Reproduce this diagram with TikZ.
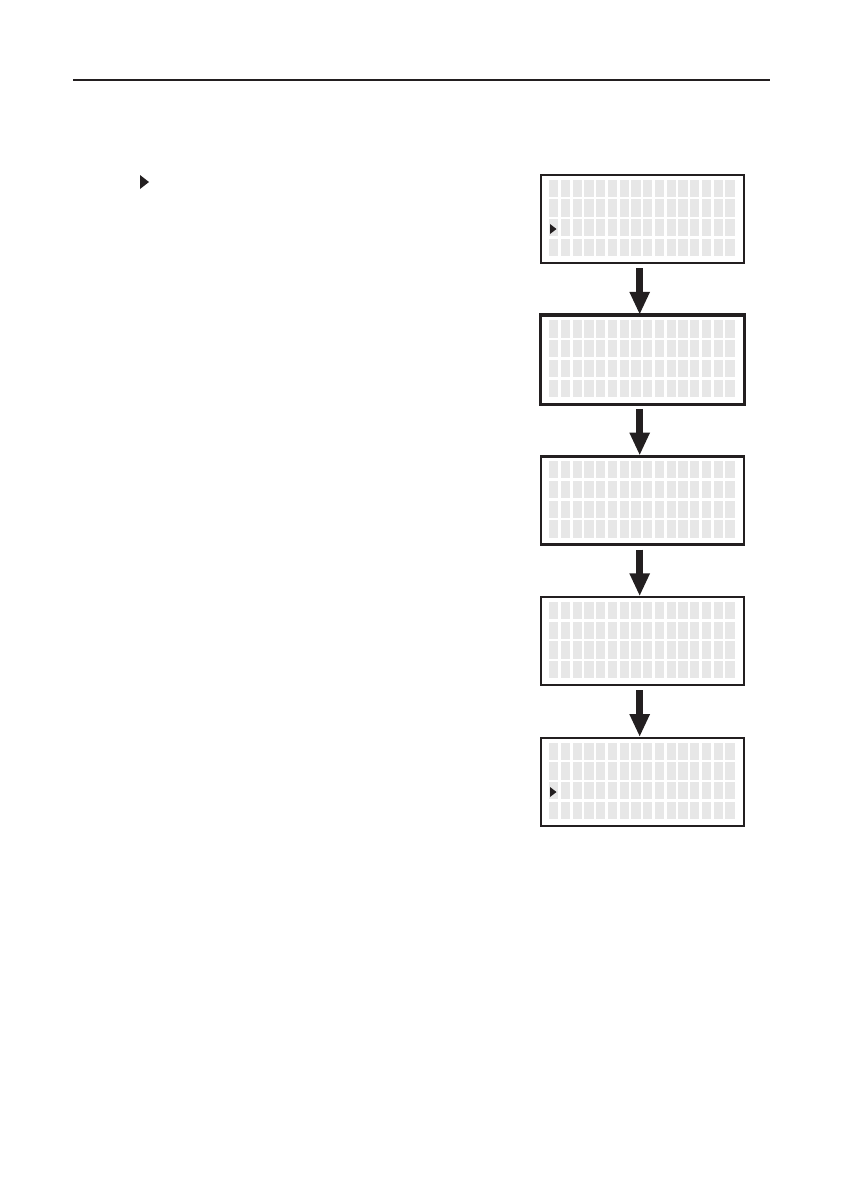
\documentclass[tikz,border=0pt]{standalone}
\usepackage{tikz}
\usetikzlibrary{arrows.meta,calc}
\definecolor{inkblack}{RGB}{35,31,32}
\definecolor{lcdcell}{RGB}{231,231,231}

\begin{document}
\begin{tikzpicture}[
  x=0.2494mm, y=-0.2494mm,
  lcd/.style={draw=inkblack, line width=1.6pt, minimum width=50.6mm,
    minimum height=21.9mm, inner sep=0pt},
  lcd cell/.style={fill=lcdcell},
  cursor/.style={fill=inkblack},
  step arrow/.style={-{Triangle[width=4.7mm,length=5.7mm]}, line width=1.75mm,
    inkblack, shorten <=1mm},
]

%% Page area
\useasboundingbox (0,0) rectangle (842,1191);

%% Header rule
\draw[inkblack, line width=1.4pt] (73,80) -- (770,80);

%% Cursor mark in the text column
\fill[cursor] (140,175) -- (149,182) -- (140,189) -- cycle;

%% ---- Display panels ----
\foreach \p/\y in {1/219, 2/359.75, 3/500.5, 4/641.25, 5/782}{
  % character cells: 16 columns, 4 rows
  \begin{scope}[shift={(642.5,\y)}]
    \foreach \c in {0,...,15}
      \foreach \r in {0,...,3}
        \fill[lcd cell] ({-93.5+11.75*\c},{-39.5+19.75*\r})
          rectangle ++(9.25,17.25);
  \end{scope}
  \node[lcd] (lcd\p) at (642.5,\y) {};
}
\draw[inkblack, line width=2pt] (lcd2.south west) rectangle (lcd2.north east);

% cursor on the third line
\fill[cursor] ($(lcd1.center)+(-92.5,5)$) -- ++(6.5,5) -- ++(-6.5,5) -- cycle;
\fill[cursor] ($(lcd5.center)+(-92.5,5)$) -- ++(6.5,5) -- ++(-6.5,5) -- cycle;

%% ---- Arrows between panels ----
\foreach \a/\b in {1/2, 2/3, 3/4, 4/5}
  \draw[step arrow] ([xshift=-2pt]lcd\a.south) -- ([xshift=-2pt]lcd\b.north);

\end{tikzpicture}
\end{document}
